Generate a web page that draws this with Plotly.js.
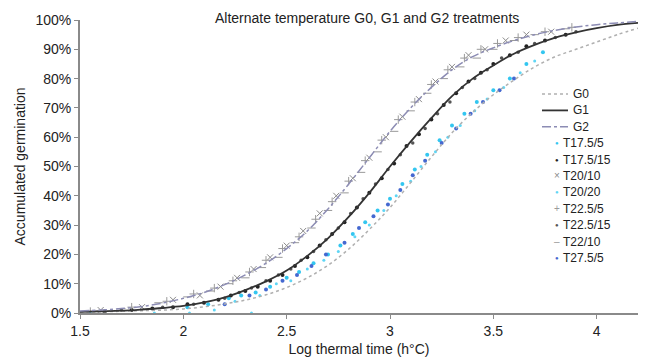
<!DOCTYPE html>
<html><head><meta charset="utf-8">
<script src="https://cdn.plot.ly/plotly-3.0.1.min.js"></script>
<style>body{margin:0;background:#fff}#c{width:645px;height:361px}</style>
</head><body><div id="c"></div>
<script>
// Fitted curves
const curveX = [1.5,1.6,1.7,1.8,1.9,2.0,2.1,2.2,2.3,2.4,2.5,2.6,2.7,2.8,2.9,3.0,3.1,3.2,3.3,3.4,3.5,3.6,3.7,3.8,3.9,4.0,4.1,4.2];
const g0 = [0.003,0.004,0.006,0.008,0.010,0.014,0.021,0.031,0.044,0.062,0.087,0.120,0.163,0.218,0.285,0.360,0.445,0.532,0.615,0.685,0.745,0.795,0.840,0.875,0.900,0.925,0.950,0.972];
const g1 = [0.004,0.006,0.008,0.012,0.017,0.024,0.036,0.053,0.078,0.108,0.145,0.195,0.255,0.328,0.410,0.500,0.585,0.665,0.740,0.800,0.845,0.885,0.915,0.940,0.958,0.972,0.983,0.990];
const g2 = [0.007,0.010,0.015,0.022,0.034,0.050,0.070,0.097,0.130,0.170,0.220,0.280,0.355,0.440,0.530,0.620,0.700,0.770,0.830,0.875,0.905,0.930,0.950,0.965,0.976,0.984,0.990,0.995];

// Observed germination per treatment
const t175_5_x = [2.02,2.12,2.22,2.28,2.35,2.42,2.5,2.56,2.63,2.7,2.76,2.82,2.88,2.94,3.0,3.06,3.12,3.18,3.24,3.3,3.36,3.42,3.5,3.58,3.66,3.74];
const t175_5_y = [0.02,0.03,0.05,0.06,0.07,0.09,0.12,0.14,0.17,0.20,0.23,0.27,0.31,0.35,0.39,0.44,0.49,0.54,0.59,0.64,0.68,0.72,0.76,0.80,0.85,0.89];
const t175_15_x = [1.62,1.75,1.85,1.95,2.02,2.1,2.17,2.23,2.3,2.36,2.42,2.48,2.54,2.6,2.66,2.72,2.78,2.84,2.9,2.96,3.02,3.08,3.14,3.2,3.26,3.32,3.38,3.44,3.5,3.58,3.66,3.75,3.85];
const t175_15_y = [0.005,0.01,0.015,0.02,0.03,0.035,0.045,0.06,0.075,0.09,0.11,0.13,0.16,0.19,0.23,0.27,0.31,0.36,0.41,0.46,0.51,0.57,0.61,0.66,0.71,0.75,0.79,0.82,0.85,0.88,0.91,0.93,0.95];
const t20_10_x = [1.6,1.8,1.95,2.08,2.18,2.26,2.34,2.42,2.5,2.58,2.66,2.74,2.82,2.9,2.98,3.06,3.14,3.22,3.3,3.38,3.46,3.56,3.66,3.78];
const t20_10_y = [0.01,0.02,0.045,0.06,0.09,0.12,0.15,0.19,0.23,0.28,0.34,0.40,0.46,0.53,0.60,0.67,0.73,0.79,0.84,0.88,0.90,0.93,0.95,0.96];
const t20_20_x = [1.55,1.86,2.03,2.33,2.15,2.25,2.37,2.45,2.52,2.6,2.68,2.75,2.83,2.9,2.97,3.03,3.1,3.15,3.22,3.28,3.34,3.41,3.47,3.55,3.63,3.7];
const t20_20_y = [0,0,0,0,0.01,0.04,0.06,0.10,0.11,0.15,0.18,0.21,0.26,0.30,0.35,0.40,0.45,0.50,0.55,0.60,0.64,0.69,0.73,0.77,0.82,0.86];
const t225_5_x = [1.55,1.75,1.92,2.05,2.15,2.24,2.32,2.4,2.48,2.56,2.64,2.72,2.8,2.88,2.96,3.04,3.12,3.2,3.28,3.36,3.44,3.52,3.62,3.75,3.88];
const t225_5_y = [0.005,0.02,0.04,0.065,0.085,0.11,0.14,0.18,0.22,0.26,0.32,0.38,0.45,0.52,0.59,0.66,0.72,0.78,0.83,0.87,0.90,0.92,0.94,0.96,0.975];
const t225_15_x = [1.7,1.9,2.05,2.2,2.27,2.33,2.4,2.46,2.52,2.57,2.63,2.69,2.75,2.81,2.87,2.93,2.99,3.05,3.11,3.17,3.23,3.29,3.35,3.41,3.47,3.54,3.62,3.7,3.8,3.9];
const t225_15_y = [0.01,0.02,0.03,0.05,0.07,0.085,0.11,0.13,0.15,0.18,0.21,0.25,0.29,0.34,0.39,0.44,0.49,0.54,0.58,0.63,0.68,0.72,0.77,0.80,0.83,0.87,0.89,0.92,0.94,0.96];
const t22_10_x = [1.7,1.88,2.02,2.13,2.22,2.3,2.38,2.46,2.54,2.62,2.7,2.78,2.86,2.94,3.02,3.1,3.18,3.26,3.34,3.42,3.5,3.6,3.7,3.85];
const t22_10_y = [0.015,0.035,0.055,0.075,0.10,0.12,0.155,0.19,0.24,0.29,0.35,0.41,0.48,0.55,0.62,0.69,0.75,0.80,0.84,0.87,0.90,0.93,0.95,0.97];
const t275_5_x = [2.2,2.32,2.4,2.48,2.55,2.62,2.69,2.78,2.85,2.92,2.99,3.05,3.11,3.17,3.25,3.32,3.39,3.45,3.53,3.6];
const t275_5_y = [0.03,0.06,0.08,0.11,0.13,0.16,0.20,0.24,0.29,0.33,0.37,0.42,0.47,0.52,0.58,0.63,0.68,0.72,0.76,0.80];

const xTicks = [1.5,2,2.5,3,3.5,4];
const yTicks = [0,0.1,0.2,0.3,0.4,0.5,0.6,0.7,0.8,0.9,1.0];

// series definitions: name, style
const curves = [
  {name:'G0', x:curveX, y:g0, color:'#b0b0b0', dash:'dot', width:1.5},
  {name:'G1', x:curveX, y:g1, color:'#333333', dash:'solid', width:1.8},
  {name:'G2', x:curveX, y:g2, color:'#8c8cb4', dash:'dashdot', width:1.5}
];
const treatments = [
  {name:'T17.5/5', x:t175_5_x, y:t175_5_y, color:'#33c6f0', symbol:'circle', size:4, glyph:'●'},
  {name:'T17.5/15', x:t175_15_x, y:t175_15_y, color:'#222222', symbol:'circle', size:4, glyph:'●'},
  {name:'T20/10', x:t20_10_x, y:t20_10_y, color:'#8a8a8a', symbol:'x-thin', size:6, glyph:'×'},
  {name:'T20/20', x:t20_20_x, y:t20_20_y, color:'#5fd6f5', symbol:'circle', size:3, glyph:'●'},
  {name:'T22.5/5', x:t225_5_x, y:t225_5_y, color:'#9a9a9a', symbol:'cross-thin', size:6, glyph:'+'},
  {name:'T22.5/15', x:t225_15_x, y:t225_15_y, color:'#555555', symbol:'circle', size:3.5, glyph:'●'},
  {name:'T22/10', x:t22_10_x, y:t22_10_y, color:'#999999', symbol:'line-ew', size:6, glyph:'–'},
  {name:'T27.5/5', x:t275_5_x, y:t275_5_y, color:'#4468d0', symbol:'circle', size:4, glyph:'●'}
];

const data = [];
treatments.forEach(t => data.push({type:'scatter', mode:'markers', name:t.name, x:t.x, y:t.y, showlegend:false,
  marker:{color:t.color, symbol:t.symbol, size:t.size, line:{width:(t.symbol==='circle')?0:1, color:t.color}}}));
curves.forEach(c => data.push({type:'scatter', mode:'lines', name:c.name, x:c.x, y:c.y, showlegend:false,
  line:{color:c.color, dash:c.dash, width:c.width, shape:'spline'}}));

// hand-made legend (compact spacing as in the reference)
const L = {l:80, t:20, w:558, h:293};
const px2x = p => (p - L.l) / L.w;
const py2y = p => (L.t + L.h - p) / L.h;
const legTop = 94, legStep = 16.4;
const shapes = [], annotations = [];
curves.forEach((c,i) => {
  const yy = py2y(legTop + i*legStep);
  shapes.push({type:'line', xref:'paper', yref:'paper', x0:px2x(542), x1:px2x(568), y0:yy, y1:yy, line:{color:c.color, dash:c.dash, width:c.width}});
  annotations.push({text:c.name, xref:'paper', yref:'paper', x:px2x(571), y:yy, xanchor:'left', yanchor:'middle', showarrow:false, font:{size:12, color:'#222'}});
});
treatments.forEach((t,i) => {
  const yy = py2y(legTop + (i+3)*legStep);
  annotations.push({text:t.glyph, xref:'paper', yref:'paper', x:px2x(557), y:yy, xanchor:'center', yanchor:'middle', showarrow:false, font:{size:t.glyph==='●'?6:10, color:t.color}});
  annotations.push({text:t.name, xref:'paper', yref:'paper', x:px2x(561), y:yy, xanchor:'left', yanchor:'middle', showarrow:false, font:{size:12, color:'#222'}});
});
annotations.push({text:'Alternate temperature G0, G1 and G2 treatments', xref:'paper', yref:'paper', x:px2x(367), y:py2y(18), xanchor:'center', yanchor:'middle', showarrow:false, font:{size:14, color:'#222'}});

const layout = {
  width:645, height:361,
  margin:{l:80, r:7, t:20, b:48},
  paper_bgcolor:'#fff', plot_bgcolor:'#fff',
  font:{family:'Liberation Sans, Arial, sans-serif', size:12, color:'#222'},
  showlegend:false,
  xaxis:{range:[1.5,4.2], tickvals:xTicks, ticktext:xTicks.map(String), showgrid:false, zeroline:false,
    showline:true, linecolor:'#8a8a8a', linewidth:2, ticks:'outside', ticklen:4, tickcolor:'#8a8a8a', tickfont:{size:14},
    title:{text:'Log thermal time (h°C)', font:{size:14}, standoff:6}},
  yaxis:{range:[0,1.0], tickvals:yTicks, tickformat:'.0%', showgrid:false, zeroline:false,
    showline:true, linecolor:'#8a8a8a', linewidth:2, ticks:'outside', ticklen:4, tickcolor:'#8a8a8a', tickfont:{size:14},
    title:{text:'Accumulated germination', font:{size:14}, standoff:6}},
  shapes:shapes, annotations:annotations
};
Plotly.newPlot('c', data, layout, {displayModeBar:false, staticPlot:true});
</script></body></html>
